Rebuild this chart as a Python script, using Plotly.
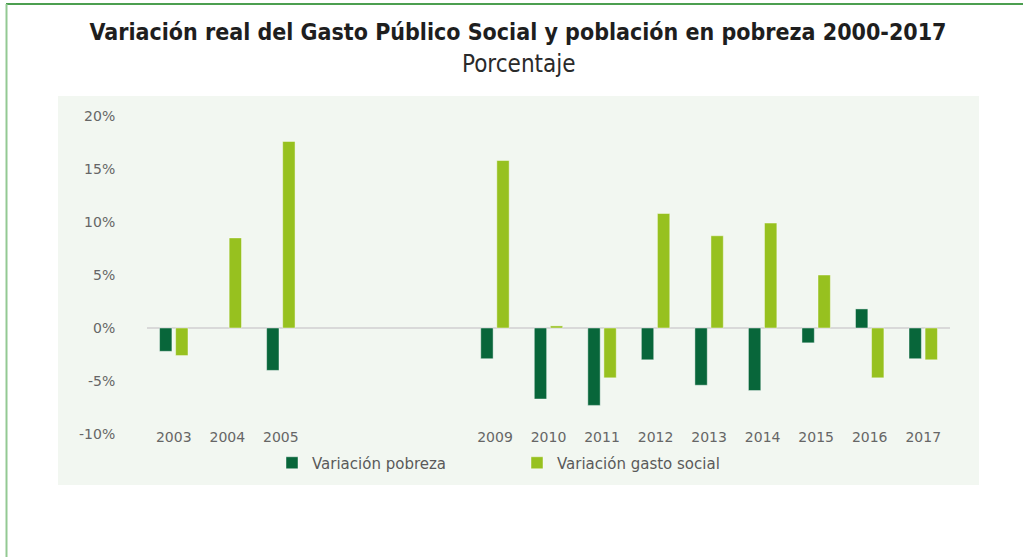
import plotly.graph_objects as go

# Years shown (2006-2008 have no data and stay as empty slots on the axis)
years = [2003, 2004, 2005, 2009, 2010, 2011, 2012, 2013, 2014, 2015, 2016, 2017]
year_labels = [str(y) for y in years]

# Real annual variation, in percent
variacion_pobreza = [-2.2, None, -4.0, -2.9, -6.7, -7.3, -3.0, -5.4, -5.9, -1.4, 1.8, -2.9]
variacion_gasto = [-2.6, 8.5, 17.6, 15.8, 0.2, -4.7, 10.8, 8.7, 9.9, 5.0, -4.7, -3.0]

y_ticks = [-10, -5, 0, 5, 10, 15, 20]
y_tick_labels = [f"{v}%" for v in y_ticks]

DARK_GREEN = "#08663a"
LIGHT_GREEN = "#97c11f"
TEXT_GRAY = "#666666"
NARROW = "Liberation Sans Narrow, DejaVu Sans Condensed, Arial Narrow, sans-serif"
WIDE = "DejaVu Sans, Verdana, sans-serif"

# Plot-area geometry in pixels (used to place the panel and frame)
W, H = 1023, 557
L, R, T, B = 147, 950, 116, 434


def px_x(x):
    return (x - L) / (R - L)


def px_y(y):
    return (B - y) / (B - T)


fig = go.Figure()
fig.add_trace(go.Bar(
    x=years, y=variacion_pobreza, name="Variación pobreza",
    marker=dict(color=DARK_GREEN, line=dict(color="rgba(255,255,255,0.55)", width=0.8)),
))
fig.add_trace(go.Bar(
    x=years, y=variacion_gasto, name="Variación gasto social",
    marker=dict(color=LIGHT_GREEN, line=dict(color="rgba(255,255,255,0.55)", width=0.8)),
))

shapes = [
    # light panel behind the chart
    dict(type="rect", xref="paper", yref="paper", layer="below",
         x0=px_x(58), x1=px_x(979), y0=px_y(485), y1=px_y(96),
         fillcolor="#f2f7f1", line=dict(width=0)),
    # green frame: top and left edges
    dict(type="line", xref="paper", yref="paper",
         x0=px_x(6), x1=px_x(1023), y0=px_y(4), y1=px_y(4),
         line=dict(color="#4c9f50", width=2)),
    dict(type="line", xref="paper", yref="paper",
         x0=px_x(6.5), x1=px_x(6.5), y0=px_y(4), y1=px_y(560),
         line=dict(color="#93c993", width=2)),
]

fig.update_layout(
    width=W, height=H,
    margin=dict(l=L, r=W - R, t=T, b=H - B),
    paper_bgcolor="white",
    plot_bgcolor="rgba(0,0,0,0)",
    barmode="group",
    bargap=0.40,
    bargroupgap=0.23,
    title=dict(
        text="<b>Variación real del Gasto Público Social y población en pobreza 2000-2017</b>",
        x=px_x(518), xanchor="center", xref="paper",
        y=1 - 32 / H, yanchor="middle",
        font=dict(family=NARROW, size=23, color="#1e1e1e"),
    ),
    annotations=[dict(
        text="Porcentaje", xref="paper", yref="paper",
        x=px_x(519), y=px_y(64), xanchor="center", yanchor="middle",
        showarrow=False,
        font=dict(family=NARROW, size=24, color="#2a2a2a"),
    )],
    shapes=shapes,
    xaxis=dict(
        range=[2002.5, 2017.5],
        tickvals=years, ticktext=year_labels,
        showgrid=False, zeroline=False, showline=False,
        anchor="free", position=0.022,
        tickfont=dict(family=WIDE, size=14, color=TEXT_GRAY),
    ),
    yaxis=dict(
        range=[-10, 20],
        tickvals=y_ticks, ticktext=y_tick_labels,
        showgrid=False, showline=False,
        zeroline=True, zerolinecolor="#d9d9d9", zerolinewidth=2,
        ticks="outside", ticklen=28, tickcolor="rgba(0,0,0,0)",
        tickfont=dict(family=WIDE, size=14, color=TEXT_GRAY),
    ),
    legend=dict(
        orientation="h",
        x=px_x(272), xanchor="left",
        y=px_y(463), yanchor="middle",
        bgcolor="rgba(0,0,0,0)",
        entrywidth=200, entrywidthmode="pixels",
        font=dict(family=WIDE, size=15, color="#5a5a5a"),
    ),
)

fig.write_html("out.html")
